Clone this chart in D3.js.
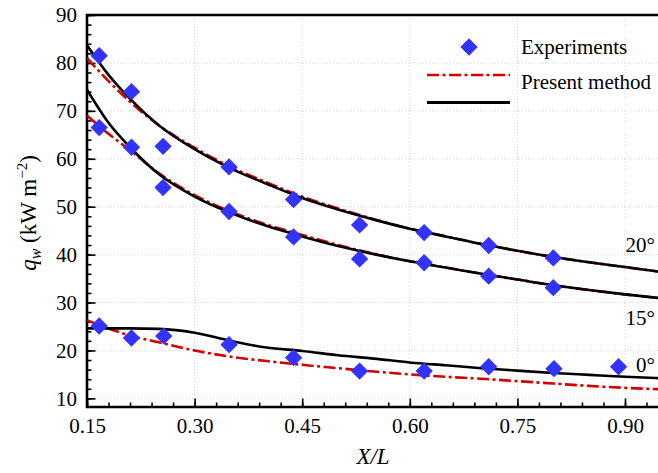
<!DOCTYPE html>
<html>
<head>
<meta charset="utf-8">
<script src="https://cdn.jsdelivr.net/npm/d3@7"></script>
<style>
  body { margin: 0; background: #fff; }
  svg { display: block; font-family: "Liberation Serif", "Times New Roman", serif; }
</style>
</head>
<body>
<svg width="658" height="473"></svg>
<script>
(function (d3) {
    'use strict';

    // experiments (diamonds)
    const expX = [0.167, 0.212, 0.256, 0.348, 0.438, 0.53, 0.62, 0.71, 0.80];
    const exp20 = [81.5, 74.0, 62.6, 58.3, 51.5, 46.2, 44.6, 41.9, 39.3];
    const exp15 = [66.5, 62.4, 54.0, 49.0, 43.7, 39.1, 38.3, 35.5, 33.1];
    const exp0X = [0.167, 0.212, 0.257, 0.348, 0.438, 0.53, 0.62, 0.71, 0.801, 0.891];
    const exp0 = [25.1, 22.6, 23.0, 21.2, 18.5, 15.7, 15.7, 16.6, 16.2, 16.6];

    // computed curves
    const curveX = [0.15, 0.18, 0.21, 0.25, 0.30, 0.35, 0.40, 0.45, 0.50, 0.55, 0.60, 0.65, 0.70, 0.75, 0.80, 0.85, 0.90, 0.95];
    const black20 = [83.7, 77.5, 72.5, 67.0, 62.0, 58.0, 54.8, 51.8, 49.4, 47.3, 45.4, 43.8, 42.2, 40.8, 39.5, 38.4, 37.4, 36.4];
    const red20   = [81.0, 76.2, 71.9, 67.0, 62.3, 58.3, 55.1, 52.1, 49.6, 47.4, 45.4, 43.8, 42.2, 40.8, 39.5, 38.4, 37.4, 36.4];
    const black15 = [74.4, 67.5, 62.4, 56.8, 52.1, 48.7, 46.0, 43.8, 41.8, 40.1, 38.6, 37.3, 36.0, 34.8, 33.6, 32.6, 31.7, 30.9];
    const red15   = [69.0, 65.2, 61.8, 57.0, 52.4, 49.0, 46.3, 44.1, 42.0, 40.2, 38.6, 37.3, 36.0, 34.8, 33.6, 32.6, 31.7, 30.9];
    const black0  = [24.6, 24.6, 24.6, 24.5, 23.7, 22.0, 20.6, 19.9, 19.0, 18.3, 17.5, 16.9, 16.3, 15.8, 15.3, 14.9, 14.5, 14.2];
    const red0    = [26.3, 24.6, 23.1, 21.7, 20.0, 18.7, 17.8, 17.0, 16.3, 15.6, 15.0, 14.5, 14.1, 13.6, 13.1, 12.6, 12.2, 11.9];

    const xTicks = [0.15, 0.30, 0.45, 0.60, 0.75, 0.90];
    const xMinor = d3.range(0, 27).map(i => 0.15 + i * 0.03);
    const yTicks = [10, 20, 30, 40, 50, 60, 70, 80, 90];
    const yMinor = d3.range(0, 41).map(i => 10 + i * 2);

    const angleLabels = [
        {text: '20°', y: 40.6},
        {text: '15°', y: 25.3},
        {text: '0°', y: 15.4}
    ];

    const svg = d3.select('svg');
    const left = 87, top = 15, right = 658, bottom = 407;

    const x = d3.scaleLinear().domain([0.15, 0.95]).range([left, left + 0.8 / 0.15 * 107.6]);
    const y = d3.scaleLinear().domain([8.2, 90]).range([bottom, top]);

    svg.append('defs').append('clipPath').attr('id', 'plot')
        .append('rect')
        .attr('x', left).attr('y', top)
        .attr('width', right - left).attr('height', bottom - top);

    // dotted grid
    const grid = svg.append('g').attr('stroke', '#d8d8d8').attr('stroke-dasharray', '1,2');
    grid.selectAll('line.gx').data(xTicks.slice(1))
        .enter().append('line')
        .attr('x1', d => x(d)).attr('x2', d => x(d))
        .attr('y1', top).attr('y2', bottom);
    grid.selectAll('line.gy').data(yTicks)
        .enter().append('line')
        .attr('x1', left).attr('x2', right)
        .attr('y1', d => y(d)).attr('y2', d => y(d));

    // axes, ticks pointing inwards
    const fontSize = 21;
    const styleAxis = g => {
        g.select('.domain').remove();
        g.selectAll('.tick line').attr('stroke', '#000').attr('stroke-width', 1.6);
        g.selectAll('.tick text').attr('fill', '#000')
            .attr('font-family', '"Liberation Serif", serif')
            .attr('font-size', fontSize);
    };

    svg.append('g')
        .attr('transform', `translate(0,${bottom})`)
        .call(d3.axisBottom(x).tickValues(xMinor).tickSize(-4.5).tickFormat(''))
        .call(styleAxis);
    svg.append('g')
        .attr('transform', `translate(0,${bottom})`)
        .call(d3.axisBottom(x).tickValues(xTicks).tickSize(-8.5).tickPadding(11).tickFormat(d3.format('.2f')))
        .call(styleAxis);
    svg.append('g')
        .attr('transform', `translate(${left},0)`)
        .call(d3.axisLeft(y).tickValues(yMinor).tickSize(-4.5).tickFormat(''))
        .call(styleAxis);
    svg.append('g')
        .attr('transform', `translate(${left},0)`)
        .call(d3.axisLeft(y).tickValues(yTicks).tickSize(-8.5).tickPadding(10).tickFormat(d3.format('d')))
        .call(styleAxis);

    // frame
    svg.append('path')
        .attr('d', `M${right},${top}H${left}V${bottom}H${right}`)
        .attr('fill', 'none').attr('stroke', '#000').attr('stroke-width', 2.6);

    // curves
    const plot = svg.append('g').attr('clip-path', 'url(#plot)');
    const line = d3.line()
        .x((d, i) => x(curveX[i]))
        .y(d => y(d))
        .curve(d3.curveMonotoneX);

    const redDash = '12,3.5,3,3.5';
    [red20, red15, red0].forEach(s => {
        plot.append('path').attr('d', line(s))
            .attr('fill', 'none').attr('stroke', '#d40000')
            .attr('stroke-width', 2.6).attr('stroke-dasharray', redDash);
    });
    [black20, black15, black0].forEach(s => {
        plot.append('path').attr('d', line(s))
            .attr('fill', 'none').attr('stroke', '#000')
            .attr('stroke-width', 2.6);
    });

    // experiment diamonds
    const diamond = d3.symbol().type(d3.symbolSquare).size(150)();
    const pts = expX.map((v, i) => [v, exp20[i]])
        .concat(expX.map((v, i) => [v, exp15[i]]))
        .concat(exp0X.map((v, i) => [v, exp0[i]]));
    plot.selectAll('path.dia').data(pts)
        .enter().append('path')
        .attr('class', 'dia')
        .attr('d', diamond)
        .attr('fill', '#3333ff')
        .attr('transform', d => `translate(${x(d[0])},${y(d[1])}) rotate(45)`);

    // angle labels
    svg.selectAll('text.ang').data(angleLabels)
        .enter().append('text')
        .attr('class', 'ang')
        .attr('x', 655)
        .attr('y', d => y(d.y))
        .attr('text-anchor', 'end')
        .attr('font-size', fontSize)
        .text(d => d.text);

    // legend
    const lg = svg.append('g');
    lg.append('path').attr('d', diamond).attr('fill', '#3333ff')
        .attr('transform', 'translate(469,47) rotate(45)');
    lg.append('text').attr('x', 521).attr('y', 54).attr('font-size', fontSize).text('Experiments');
    lg.append('line').attr('x1', 427).attr('x2', 510).attr('y1', 75).attr('y2', 75)
        .attr('stroke', '#d40000').attr('stroke-width', 2.6).attr('stroke-dasharray', redDash);
    lg.append('text').attr('x', 521).attr('y', 89).attr('font-size', fontSize).text('Present method');
    lg.append('line').attr('x1', 427).attr('x2', 510).attr('y1', 102.5).attr('y2', 102.5)
        .attr('stroke', '#000').attr('stroke-width', 2.8);

    // axis titles
    const xt = svg.append('text').attr('x', 373).attr('y', 464)
        .attr('text-anchor', 'middle').attr('font-size', fontSize + 2).attr('font-style', 'italic');
    xt.text('X/L');

    const yt = svg.append('text')
        .attr('transform', 'translate(36,213) rotate(-90)')
        .attr('text-anchor', 'middle').attr('font-size', fontSize + 2);
    yt.append('tspan').attr('font-style', 'italic').text('q');
    yt.append('tspan').attr('font-style', 'italic').attr('font-size', 16).attr('dy', 5).text('w');
    yt.append('tspan').attr('dy', -5).text(' (kW m');
    yt.append('tspan').attr('font-size', 15).attr('dy', -9).text('−2');
    yt.append('tspan').attr('dy', 9).text(')');
}(d3));
</script>
</body>
</html>
